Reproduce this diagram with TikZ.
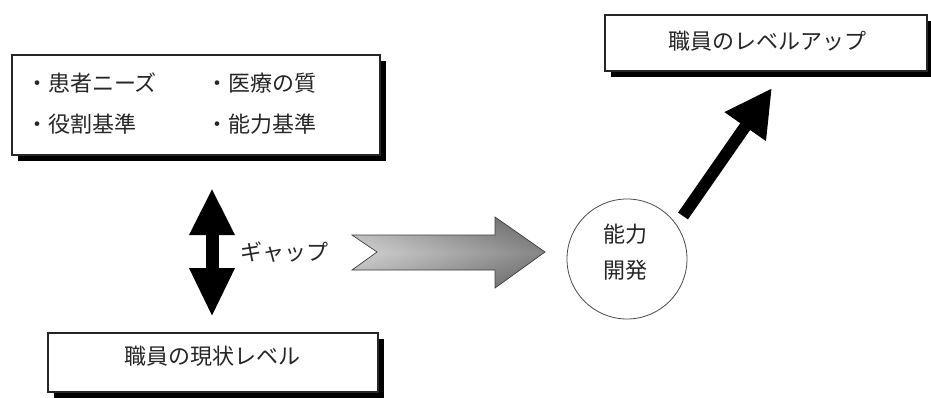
\documentclass[tikz,border=0pt]{standalone}
\usepackage{fontspec}
\newfontfamily\jp{Noto Sans CJK JP}
\usetikzlibrary{arrows.meta,shadows}
\begin{document}
\begin{tikzpicture}[x=1pt,y=-1pt,
  every node/.style={inner sep=0pt, outer sep=0pt},
  box/.style={draw=black!85, line width=1.2pt, fill=white,
    drop shadow={shadow xshift=6pt, shadow yshift=-6pt, opacity=1, fill=black}},
  lbl/.style={font=\jp\fontsize{22}{26}\selectfont, text=black!85}
  ]
\useasboundingbox (0,0) rectangle (931,397);
\fill[white] (0,0) rectangle (931,397);
\begin{scope}
\clip (0,0) rectangle (931,397);
% boxes
\node[box, minimum width=368pt, minimum height=100pt] (needs) at (196,105) {};
\node[box, minimum width=322pt, minimum height=56pt] (up) at (766,43) {};
\node[box, minimum width=330pt, minimum height=59pt] (now) at (213,362.5) {};
% texts
\node[lbl, anchor=west] (t1) at (26,83) {・患者ニーズ};
\node[lbl, anchor=west] (t2) at (206,83) {・医療の質};
\node[lbl, anchor=west] (t3) at (26,124) {・役割基準};
\node[lbl, anchor=west] (t4) at (206,124) {・能力基準};
\node[lbl] (tup) at (767,41) {職員のレベルアップ};
\node[lbl] (tnow) at (212,356) {職員の現状レベル};
\node[lbl, anchor=west] (tgap) at (240,252) {ギャップ};
% circle
\node[draw=black!70, line width=0.8pt, circle, minimum size=120pt] (dev) at (627,259) {};
\node[lbl] (d1) at (625,234) {能力};
\node[lbl] (d2) at (625,270) {開発};
% double arrow
\coordinate (gtop) at (212,188);
\coordinate (gbot) at (212,317);
\draw[line width=13pt, {Triangle[length=47pt,width=42pt]}-{Triangle[length=49pt,width=42pt]}] (gtop) -- (gbot);
% gradient arrow
\def\gapshape{(352,235) -- (495,235) -- (495,217) -- (545,252) -- (495,288) -- (495,270) -- (352,270) -- (377,252) -- cycle}
\shade[top color=gray!90, bottom color=gray!90, middle color=gray!50] \gapshape;
\shade[left color=white, right color=black, fill opacity=0.3] \gapshape;
\draw[draw=black!75, line width=0.7pt, line join=miter] \gapshape;
% diagonal arrow
\coordinate (dtail) at (683,216);
\coordinate (dtip) at (772,88);
\draw[line width=12pt, -{Triangle[length=47pt,width=47pt]}] (dtail) -- (dtip);
\end{scope}
\end{tikzpicture}
\end{document}
